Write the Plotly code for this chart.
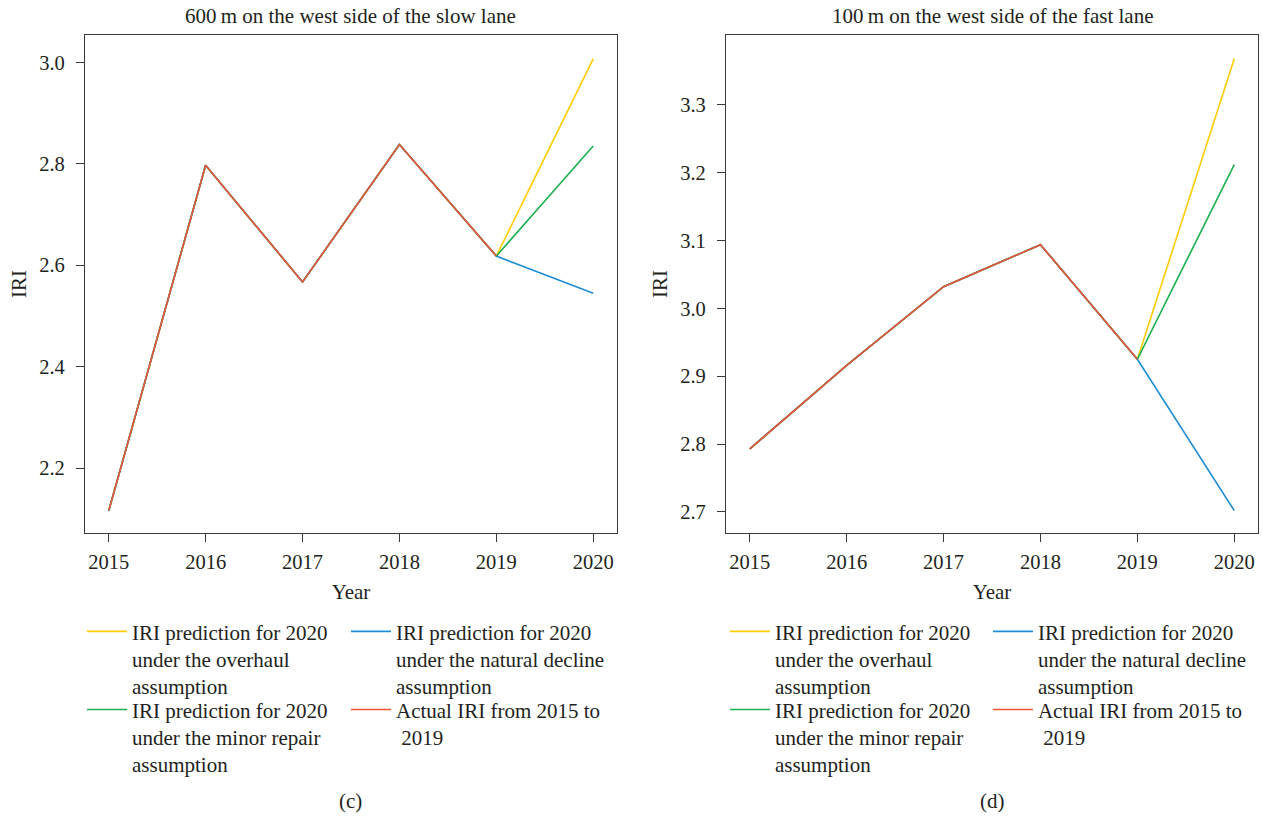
import plotly.graph_objects as go
from plotly.subplots import make_subplots

years = [2015, 2016, 2017, 2018, 2019, 2020]

# Panel (c): 600 m on the west side of the slow lane
c_actual = [2.116, 2.797, 2.567, 2.838, 2.618]
c_overhaul_2020 = 3.007
c_minor_2020 = 2.835
c_natural_2020 = 2.545

# Panel (d): 100 m on the west side of the fast lane
d_actual = [2.793, 2.916, 3.032, 3.094, 2.925]
d_overhaul_2020 = 3.368
d_minor_2020 = 3.212
d_natural_2020 = 2.702

titles = ["600\u2009m on the west side of the slow lane",
          "100\u2009m on the west side of the fast lane"]
panel_labels = ["(c)", "(d)"]
c_yticks = [2.2, 2.4, 2.6, 2.8, 3.0]
d_yticks = [2.7, 2.8, 2.9, 3.0, 3.1, 3.2, 3.3]

names = {
    "overhaul": "IRI prediction for 2020<br>under the overhaul<br>assumption",
    "natural": "IRI prediction for 2020<br>under the natural decline<br>assumption",
    "minor": "IRI prediction for 2020<br>under the minor repair<br>assumption",
    "actual": "Actual IRI from 2015 to<br> 2019",
}
colors = {"overhaul": "#FFCC00", "natural": "#1F8DD6",
          "minor": "#1DAF50", "actual": "#EE5533"}

FONT = "Liberation Serif"
TXT = "#231F20"
TICK_SIZE = 20.5
TEXT_SIZE = 21
ITEM_W = 40

fig = make_subplots(rows=1, cols=2, horizontal_spacing=0.0)

panels = [
    (c_actual, {"overhaul": c_overhaul_2020, "natural": c_natural_2020, "minor": c_minor_2020}),
    (d_actual, {"overhaul": d_overhaul_2020, "natural": d_natural_2020, "minor": d_minor_2020}),
]

shift = (ITEM_W - 30) / 1173.0
leg_x = [[0.006 - shift, 0.231 - shift], [0.5541 - shift, 0.7783 - shift]]
leg_y = [-0.157, -0.314]
legend_slots = {"overhaul": (0, 0), "natural": (0, 1), "minor": (1, 0), "actual": (1, 1)}

legend_layouts = {}
idx = 0
for p, (actual, preds) in enumerate(panels):
    for key in ["overhaul", "minor", "natural", "actual"]:
        idx += 1
        lname = "legend" if idx == 1 else f"legend{idx}"
        if key == "actual":
            y = actual
            x = years[:len(actual)]
        else:
            y = actual + [preds[key]]
            x = years
        fig.add_trace(go.Scatter(x=x, y=y, mode="lines", name=names[key],
                                 line=dict(color=colors[key], width=1.6),
                                 legend=lname, showlegend=True),
                      row=1, col=p + 1)
        r, c = legend_slots[key]
        legend_layouts[lname] = dict(
            x=leg_x[p][c], y=leg_y[r], xanchor="left", yanchor="top",
            orientation="v", valign="top", bgcolor="rgba(0,0,0,0)",
            itemwidth=ITEM_W,
            font=dict(family=FONT, size=TEXT_SIZE, color=TXT),
            itemclick=False, itemdoubleclick=False, tracegroupgap=0)

fig.update_layout(**legend_layouts)

axis_common = dict(showline=True, linecolor="#3a3a3a", linewidth=1.2, mirror=True,
                   ticks="outside", ticklen=8, tickcolor="#3a3a3a", tickwidth=1.2,
                   showgrid=False, zeroline=False,
                   tickfont=dict(family=FONT, size=TICK_SIZE, color=TXT))

fig.update_xaxes(**axis_common, range=[2014.755, 2020.245], tickvals=years,
                 ticklabelstandoff=2,
                 title=dict(text="Year", font=dict(family=FONT, size=TEXT_SIZE, color=TXT), standoff=12))
fig.update_xaxes(domain=[0, 0.4535], row=1, col=1)
fig.update_xaxes(domain=[0.5465, 1.0], row=1, col=2)
fig.update_yaxes(**axis_common, ticklabelstandoff=7,
                 title=dict(text="IRI", font=dict(family=FONT, size=TEXT_SIZE, color=TXT), standoff=6))
fig.update_yaxes(range=[2.0721, 3.0539], tickvals=c_yticks, tickformat=".1f", row=1, col=1)
fig.update_yaxes(range=[2.669, 3.403], tickvals=d_yticks, tickformat=".1f", row=1, col=2)

annotations = []
for i, (t, lab) in enumerate(zip(titles, panel_labels)):
    xref = "x domain" if i == 0 else "x2 domain"
    annotations.append(dict(text=t, xref=xref, yref="paper", x=0.5, y=1.0, yshift=19,
                            xanchor="center", yanchor="middle", showarrow=False,
                            font=dict(family=FONT, size=TEXT_SIZE, color=TXT)))
    annotations.append(dict(text=lab, xref=xref, yref="paper", x=0.5, y=-0.538,
                            xanchor="center", yanchor="middle", showarrow=False,
                            font=dict(family=FONT, size=TEXT_SIZE, color=TXT)))
fig.update_layout(annotations=annotations)

fig.update_layout(width=1263, height=816, paper_bgcolor="white", plot_bgcolor="white",
                  margin=dict(l=85, r=5, t=35, b=283),
                  font=dict(family=FONT, color=TXT))

# Remove the default page-body margin so the figure fills the window exactly.
fig.write_html("out.html",
               config={"displayModeBar": False},
               post_script="document.body.style.margin='0px';document.body.style.overflow='hidden';")
